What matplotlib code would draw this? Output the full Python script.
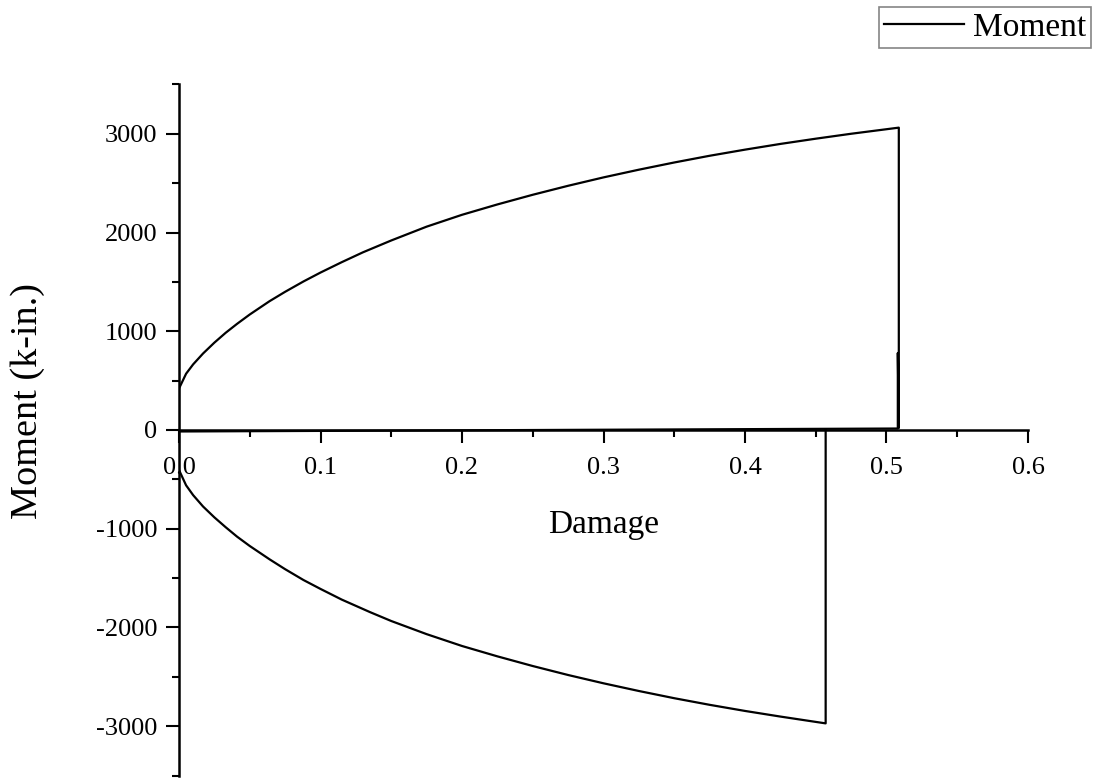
import numpy as np
import matplotlib
matplotlib.use('Agg')
import matplotlib.pyplot as plt
from matplotlib.ticker import MultipleLocator

plt.rcParams['font.family'] = 'Liberation Serif'
plt.rcParams['axes.unicode_minus'] = False

# positive branch: moment grows with damage until the section fails
d_pos = [0.0, 0.0, 0.005, 0.01, 0.017, 0.025, 0.033, 0.041, 0.05, 0.064,
         0.075, 0.088, 0.1, 0.115, 0.13, 0.15, 0.175, 0.2, 0.225, 0.25, 0.275,
         0.3, 0.325, 0.35, 0.375, 0.4, 0.425, 0.45, 0.475, 0.5087]
m_pos = [0, 420, 570, 665, 775, 885, 985, 1075, 1170, 1305,
         1400, 1505, 1595, 1700, 1800, 1920, 2060, 2180, 2285, 2383, 2474,
         2559, 2637, 2710, 2778, 2840, 2898, 2951, 3001, 3063]

# drop after failure and return along the zero line
d_back = [0.5087, 0.5080, 0.5080, 0.0, 0.0]
m_back = [20, 780, 15, -15, -405]

# negative branch
d_neg = [0.005, 0.01, 0.017, 0.025, 0.033, 0.041, 0.05, 0.064, 0.075, 0.088,
         0.1, 0.115, 0.135, 0.15, 0.175, 0.2, 0.225, 0.25, 0.275, 0.3, 0.325,
         0.35, 0.375, 0.4, 0.425, 0.45, 0.457, 0.457]
m_neg = [-560, -660, -775, -885, -985, -1080, -1175, -1310, -1410, -1520,
         -1610, -1718, -1845, -1935, -2068, -2188, -2293, -2391, -2482, -2566, -2644,
         -2717, -2784, -2846, -2903, -2957, -2972, 0]

damage = np.concatenate([d_pos, d_back, d_neg])
moment = np.concatenate([m_pos, m_back, m_neg])

fig = plt.figure(figsize=(10.94, 7.78), dpi=100)
ax = fig.add_axes([179/1094, 1 - 775.5/778, (1028 - 179)/1094, 691/778])

ax.plot(damage, moment, color='black', lw=1.6, label='Moment')

ax.set_xlim(0, 0.6)
ax.set_ylim(-3500, 3500)
ax.spines['bottom'].set_position(('data', 0))
ax.spines['top'].set_visible(False)
ax.spines['right'].set_visible(False)
for s in ('left', 'bottom'):
    ax.spines[s].set_linewidth(1.8)

ax.xaxis.set_minor_locator(MultipleLocator(0.05))
ax.yaxis.set_minor_locator(MultipleLocator(500))
ax.set_xticks(np.arange(0, 0.61, 0.1))
ax.set_xticklabels(['0.0', '0.1', '0.2', '0.3', '0.4', '0.5', '0.6'])
ax.set_yticks([-3000, -2000, -1000, 0, 1000, 2000, 3000])

ax.tick_params(which='major', direction='out', length=9.5, width=1.5, labelsize=19, pad=6)
ax.tick_params(axis='x', which='major', pad=10)
ax.tick_params(which='minor', direction='out', length=5, width=1.5)

ax.set_xlabel('Damage', fontsize=24, labelpad=22)
ax.set_ylabel('Moment (k-in.)', fontsize=27.5)
ax.yaxis.set_label_coords(-0.158, 0.542)

leg = ax.legend(loc='upper right', bbox_to_anchor=(1091/1094, 1 - 7/778),
                bbox_transform=fig.transFigure, fontsize=24, frameon=True,
                fancybox=False, borderaxespad=0, borderpad=0.15,
                handlelength=2.4, handletextpad=0.25)
leg.get_frame().set_edgecolor('#666666')
leg.get_frame().set_linewidth(1.2)

fig.savefig('out.png', dpi=100)
